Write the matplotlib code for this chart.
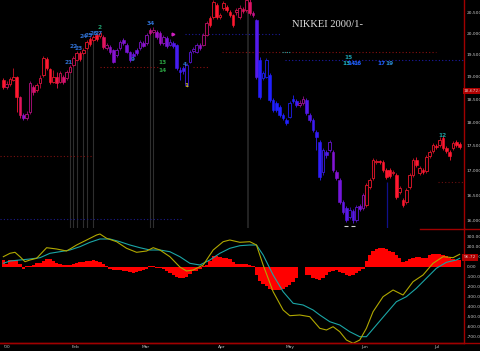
import matplotlib
matplotlib.use("Agg")
import matplotlib.pyplot as plt
from matplotlib.colors import LinearSegmentedColormap, Normalize
from matplotlib.lines import Line2D
import numpy as np

# ── Data ──────────────────────────────────────────────────────────────────────
opens = [18925, 18770, 18835, 18925, 18990, 18545, 18150, 18090, 18220, 18770,
         18700, 18860, 19040, 19400, 19175, 18880, 18990, 18880, 18990, 18970,
         19105, 19265, 19380, 19540, 19540, 19660, 19870, 19850, 19965, 19940,
         19920, 19660, 19690, 19610, 19500, 19660, 19850, 19730, 19570, 19520,
         19610, 19660, 19780, 19780, 20085, 20040, 20040, 20010, 19780, 19900,
         19730, 19780, 19730, 19150, 19200, 18813, 19340, 19590, 19570, 19730,
         19730, 19965, 20385, 20400, 20690, 20400, 20620, 20640, 20520, 20445,
         20520, 20400, 20600, 20570, 20760, 20500, 20325, 19380, 18970, 18990,
         19037, 18478, 18410, 18325, 18152, 18044, 18110, 18500, 18450, 18380,
         18420, 18478, 18152, 18044, 17790, 17580, 16960, 17370, 17411, 17370,
         16960, 16800, 16370, 16250, 16080, 16190, 16019, 16280, 16250, 16308,
         16660, 16840, 17160, 17180, 17165, 17002, 17002, 16940, 16901, 16560,
         16405, 16370, 16660, 16901, 17205, 16940, 17002, 16980, 17285, 17390,
         17490, 17515, 17660, 17450, 17370, 17455, 17580, 17540]
highs = [18980, 18900, 19000, 19190, 19020, 18560, 18195, 18230, 18900, 18820,
         18860, 19040, 19470, 19440, 19200, 19150, 19110, 19130, 19040, 19150,
         19270, 19470, 19590, 19590, 19660, 19850, 19920, 19960, 20010, 20060,
         19970, 19780, 19730, 19640, 19660, 19850, 19890, 19780, 19600, 19560,
         19650, 19850, 19820, 20010, 20130, 20150, 20090, 20060, 19960, 19930,
         19880, 19820, 19760, 19220, 19250, 19300, 19610, 19690, 19780, 19770,
         20010, 20300, 20430, 20815, 20740, 20500, 20800, 20690, 20570, 20480,
         20620, 20680, 20650, 20870, 20830, 20540, 20350, 19450, 19120, 19420,
         19080, 18520, 18450, 18370, 18200, 18090, 18460, 18590, 18500, 18480,
         18560, 18520, 18200, 18090, 17830, 17620, 17460, 17420, 17620, 17420,
         17000, 16840, 16410, 16290, 16260, 16230, 16310, 16320, 16540, 16740,
         16840, 17250, 17230, 17210, 17200, 17040, 17040, 17000, 16940, 16690,
         16440, 16640, 16940, 17250, 17260, 17090, 17040, 17310, 17410, 17560,
         17530, 17680, 17720, 17490, 17410, 17600, 17620, 17580]
lows = [18720, 18720, 18800, 18900, 18220, 18090, 18040, 18050, 18180, 18600,
        18650, 18750, 19000, 19150, 18830, 18860, 18750, 18850, 18840, 18930,
        19080, 19220, 19350, 19360, 19500, 19620, 19700, 19810, 19830, 19900,
        19640, 19620, 19520, 19310, 19460, 19620, 19740, 19540, 19340, 19420,
        19500, 19620, 19680, 19740, 19970, 20000, 19880, 19730, 19740, 19660,
        19700, 19650, 19150, 18925, 19060, 18760, 19300, 19550, 19540, 19620,
        19700, 19930, 20160, 20350, 20350, 20350, 20570, 20520, 20400, 20160,
        20450, 20350, 20500, 20520, 20450, 20400, 18950, 18500, 18930, 18960,
        18430, 18220, 18220, 18100, 18040, 17940, 18080, 18410, 18330, 18320,
        18380, 18150, 18000, 17780, 17410, 16800, 16900, 17250, 17370, 16960,
        16800, 16330, 16130, 15980, 16040, 15970, 15990, 16190, 16220, 16270,
        16620, 16800, 17120, 17120, 16960, 16820, 16840, 16900, 16420, 16520,
        16260, 16330, 16620, 16860, 17060, 16900, 16920, 16940, 17250, 17350,
        17440, 17480, 17410, 17350, 17200, 17420, 17480, 17440]
closes = [18770, 18835, 18945, 18990, 18545, 18150, 18090, 18170, 18860, 18660,
          18810, 18970, 19420, 19200, 18880, 18990, 18860, 19080, 18880, 19105,
          19220, 19420, 19540, 19400, 19610, 19800, 19750, 19920, 19870, 20010,
          19680, 19730, 19560, 19335, 19610, 19800, 19780, 19570, 19380, 19470,
          19540, 19800, 19710, 19965, 20010, 20085, 19920, 19780, 19920, 19700,
          19800, 19700, 19200, 19100, 19120, 19265, 19570, 19640, 19730, 19660,
          19965, 20250, 20205, 20770, 20400, 20440, 20740, 20570, 20445, 20205,
          20570, 20620, 20550, 20815, 20500, 20450, 18990, 18545, 19080, 19380,
          18478, 18261, 18261, 18152, 18090, 17980, 18410, 18450, 18380, 18420,
          18500, 18200, 18044, 17831, 17680, 16860, 17411, 17308, 17580, 17002,
          16840, 16370, 16170, 16019, 16211, 16019, 16270, 16230, 16502, 16700,
          16800, 17205, 17190, 17160, 17002, 16860, 16880, 16960, 16465, 16640,
          16308, 16602, 16901, 17205, 17104, 17040, 16960, 17265, 17370, 17515,
          17475, 17620, 17450, 17390, 17285, 17560, 17520, 17480]

hist = [70, 30, 70, 70, 70, 30, -20, 10, 10, 20,
        40, 40, 60, 80, 80, 60, 40, 30, 20, 20,
        25, 30, 45, 50, 50, 60, 65, 70, 65, 55,
        30, 10, -20, -30, -30, -30, -35, -40, -50, -55,
        -45, -35, -25, -15, 10, 10, -10, -10, -20, -40,
        -60, -80, -100, -110, -110, -100, -70, -40, -40, -15,
        10, 20, 60, 110, 110, 105, 95, 90, 80, 55,
        35, 30, 30, 30, 25, 10, -80, -140, -170, -190,
        -220, -230, -230, -230, -220, -200, -180, -150, -110, 0,
        0, -80, -80, -110, -120, -130, -110, -80, -50, -35,
        -30, -45, -60, -75, -85, -75, -60, -40, -15, 60,
        120, 160, 180, 190, 190, 180, 165, 150, 120, 90,
        55, 60, 85, 95, 100, 100, 95, 95, 120, 130,
        130, 130, 125, 110, 95, 85, 75, 70]

macd_idx = [0, 2, 3.5, 5, 6.5, 8, 10, 13, 16, 19, 22, 25, 28, 29, 31, 34, 37, 40,
            43, 45, 47, 50, 53, 55, 57, 60, 63, 66, 68, 71, 74, 76, 78, 81, 84,
            86, 89, 92, 95, 97, 99, 101, 103, 105, 107, 109, 111, 114, 117, 120,
            123, 126, 129, 132, 135, 137]
macd_val = [103, 137, 147, 103, 53, 70, 87, 193, 180, 160, 220, 270, 320, 330,
            287, 253, 187, 147, 160, 193, 170, 103, 0, -40, -30, 20, 170, 253,
            270, 247, 253, 220, 20, -247, -430, -487, -480, -497, -613, -630,
            -597, -647, -730, -763, -730, -613, -447, -297, -230, -280, -147,
            -80, 37, 103, 93, 127]
sig_idx = [0, 2, 5, 8, 11, 14, 17, 20, 23, 26, 29, 32, 35, 38, 41, 44, 47, 50,
           53, 56, 59, 62, 65, 68, 71, 74, 76, 78, 81, 84, 87, 90, 93, 95, 98,
           101, 104, 107, 109, 112, 115, 118, 121, 124, 127, 130, 133, 136, 137]
sig_val = [37, 60, 70, 80, 93, 137, 153, 170, 203, 247, 280, 280, 253, 220, 193,
           170, 170, 153, 103, 37, 20, 70, 137, 187, 213, 220, 220, 120, -80,
           -247, -363, -380, -430, -480, -547, -580, -647, -697, -697, -580,
           -463, -347, -297, -213, -113, -13, 47, 70, 87]

price_ticks = [16000, 16500, 17000, 17500, 18000, 18500, 19000, 19500, 20000, 20500]
macd_ticks = [300, 200, 100, 0, -100, -200, -300, -400, -500, -600, -700]
month_pos = [1, 21.8, 42.6, 65.7, 86.1, 108.6, 130.2]
month_labels = ["'00", "Feb", "Mar", "Apr", "May", "Jun", "Jul"]

# count marks above / below candles: (day index, price, text, colour)
counts = [
    (19.7, 19320, "21", "#2f6fd0"), (21.0, 19690, "22", "#2f6fd0"),
    (22.6, 19640, "23", "#2f6fd0"), (24.0, 19930, "24", "#2f6fd0"),
    (25.6, 19960, "25", "#2f6fd0"), (27.0, 19990, "26", "#2f6fd0"),
    (28.6, 20010, "27", "#2f6fd0"), (29.0, 20150, "2", "#1f9f6f"),
    (44.3, 20250, "34", "#2f6fd0"), (39.0, 19400, "9", "#2f6fd0"),
    (47.8, 19320, "13", "#2aa040"), (47.8, 19150, "14", "#2aa040"),
    (54.6, 19270, "4", "#2f6fd0"), (55.0, 18800, "1", "#c8c020"),
    (103.5, 19440, "15", "#1c9aa8"), (103.0, 19300, "13", "#1cb0c0"),
    (104.6, 19300, "14", "#2060ff"), (106.2, 19300, "16", "#2060ff"),
    (113.6, 19300, "17", "#2060ff"), (116.0, 19300, "19", "#2a8ad0"),
    (131.8, 17720, "12", "#1c9a98"),
]

# ── Figure ────────────────────────────────────────────────────────────────────
W, H = 480, 351
fig = plt.figure(figsize=(W / 100, H / 100), dpi=100, facecolor="black")
ax = fig.add_axes([0, 1 - 228 / H, 464 / W, 228 / H], facecolor="black")
ax2 = fig.add_axes([0, 1 - 343 / H, 464 / W, 115 / H], facecolor="black")

n = len(closes)
x = np.arange(n)
o = np.array(opens, float)
c = np.array(closes, float)
hi = np.array(highs, float)
lo = np.array(lows, float)

# candle tint follows the oscillator: blue when falling, red when rising
cmap = LinearSegmentedColormap.from_list("trend", [
    (0.0, "#2020ff"), (0.3, "#6418e6"), (0.47, "#a012c4"),
    (0.56, "#d41274"), (0.68, "#ff1830"), (1.0, "#ff1830")])
norm = Normalize(-150, 150)
cols = cmap(norm(np.array(hist, float)))

ax.set_yscale("log")
ax.set_xlim(-1, 138.3)
ax.set_ylim(15867, 20815)

# vertical marker lines (count signals)
for i in [20, 21, 22, 24, 25, 27, 44, 45]:
    ax.vlines(i, 15800, lo[i], color="#2e2e2e", lw=0.8, zorder=1)
ax.vlines(73.5, 15800, 21000, color="#2a2a2a", lw=1.2, zorder=1)
ax.vlines(115.3, 15800, lo[115] - 60, color="#10108a", lw=0.9, zorder=1)

# dotted support / resistance levels
levels = [
    (19219, 29, 47, "#8a1010"), (19219, 57, 61.5, "#8a1010"),
    (19566, 65.7, 130, "#8a1010"), (19990, 54.5, 83, "#1c1c9a"),
    (19381, 84.6, 138.3, "#1c1ca8"), (17287, -1, 26.6, "#7a1010"),
    (16038, -1, 54, "#1c1c8a"), (16760, 130.5, 138.3, "#6a1010"),
]
for y, x0, x1, col in levels:
    ax.hlines(y, x0, x1, colors=col, linestyles=(0, (1, 2)), lw=0.8, zorder=1)
ax.hlines(19566, 83.7, 86, colors="#1c9a9a", linestyles=(0, (1, 1)), lw=0.8)

# candles
up = c >= o
body_lo = np.minimum(o, c)
body_h = np.maximum(np.abs(c - o), 12)
edge = cols.copy()
edge[up, :3] *= 0.8
ax.vlines(x, lo, hi, colors=edge, lw=0.6, zorder=2)
ax.bar(x[~up], body_h[~up], bottom=body_lo[~up], width=0.8,
       color=cols[~up], edgecolor=cols[~up], lw=0.4, zorder=3)
ax.bar(x[up], body_h[up], bottom=body_lo[up], width=0.8,
       color="black", edgecolor=edge[up], lw=0.7, zorder=3)

for xi, yi, t, col in counts:
    ax.text(xi, yi, t, color=col, fontsize=4.2, ha="center", va="center",
            fontweight="bold", zorder=5)
ax.plot([103, 105], [15905, 15905], ls="none", marker="_", ms=2.5,
        color="#d0d0d0", mew=0.8, zorder=5)
ax.plot([51], [20000], ls="none", marker=">", ms=2, color="#d020c0", zorder=5)

ax.text(0.705, 0.893, "NIKKEI 2000/1-", transform=ax.transAxes,
        family="Liberation Serif", fontsize=7.6, color="#e0e0e0",
        ha="center", va="center")

ax.set_xticks([])
ax.yaxis.tick_right()
ax.yaxis.set_minor_locator(plt.NullLocator())
ax.set_yticks(price_ticks)
ax.set_yticklabels([f"{v:,.2f}" for v in price_ticks])
ax.tick_params(axis="y", length=0, pad=2, labelsize=3.2, labelcolor="#c8c8c8")
for s in ["top", "bottom", "left"]:
    ax.spines[s].set_visible(False)
ax.spines["right"].set_color("#a00000")
ax.spines["right"].set_linewidth(1.0)

# last-price marker on the axis
ax.text(1.0, 18672, "18,672.00", transform=ax.get_yaxis_transform(),
        fontsize=3.2, color="#e0c0c0", va="center", ha="left",
        bbox=dict(boxstyle="square,pad=0.25", fc="#b00000", ec="none"),
        clip_on=False)

# ── MACD panel ────────────────────────────────────────────────────────────────
ax2.set_xlim(-1, 138.3)
ax2.set_ylim(-760, 390)
ax2.bar(x, hist, width=1.0, color="#ff0000", lw=0, zorder=2)
ax2.plot(sig_idx, sig_val, color="#1ba6a6", lw=0.8, zorder=3)
ax2.plot(macd_idx, macd_val, color="#b0a800", lw=0.8, zorder=4)

ax2.yaxis.tick_right()
ax2.set_yticks(macd_ticks)
ax2.set_yticklabels([f"{v:.2f}" for v in macd_ticks])
ax2.tick_params(axis="y", length=0, pad=2, labelsize=3.2, labelcolor="#c8c8c8")
ax2.set_xticks(month_pos)
ax2.set_xticklabels(month_labels)
ax2.tick_params(axis="x", length=0, pad=1.5, labelsize=3.2, labelcolor="#c0c0c0")
for s in ["top", "left"]:
    ax2.spines[s].set_visible(False)
for s in ["right", "bottom"]:
    ax2.spines[s].set_color("#a00000")
    ax2.spines[s].set_linewidth(1.0)
ax2.text(1.0, 96.7, "96.72", transform=ax2.get_yaxis_transform(),
         fontsize=3.2, color="#e0c0c0", va="center", ha="left",
         bbox=dict(boxstyle="square,pad=0.35", fc="#b00000", ec="none"),
         clip_on=False)

fig.add_artist(Line2D([0, 1], [1 - 343 / H] * 2, color="#a00000", lw=1.0))
fig.add_artist(Line2D([420 / W, 1], [1 - 229 / H] * 2, color="#a00000", lw=1.0))

fig.savefig("out.png", dpi=100, facecolor="black")
